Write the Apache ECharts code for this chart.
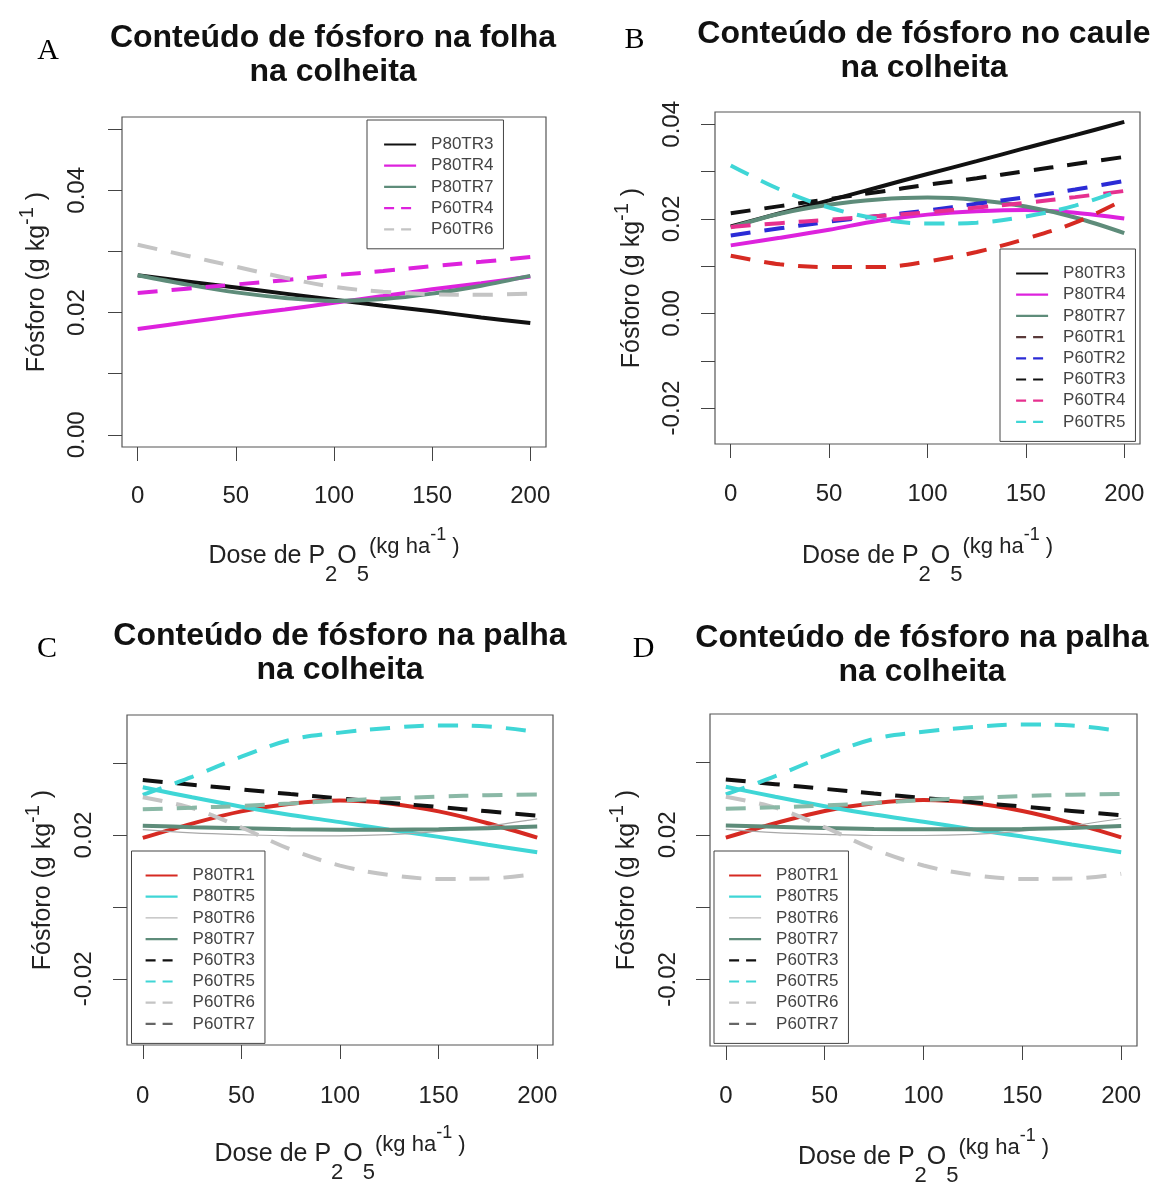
<!DOCTYPE html>
<html>
<head>
<meta charset="utf-8">
<script src="https://cdn.jsdelivr.net/npm/echarts@6/dist/echarts.min.js"></script>
<style>
  body { margin: 0; background: #fff; }
  #page { position: relative; width: 1156px; height: 1183px; }
  .panel { position: absolute; }
</style>
</head>
<body>
<div id="page">
  <div id="pA" class="panel" style="left:0;top:0;width:578px;height:590px"></div>
  <div id="pB" class="panel" style="left:578px;top:0;width:578px;height:590px"></div>
  <div id="pC" class="panel" style="left:0;top:590px;width:578px;height:593px"></div>
  <div id="pD" class="panel" style="left:578px;top:590px;width:578px;height:593px"></div>
</div>
<script>
// doses (kg/ha) where the curves were read
const doses = [0, 25, 50, 75, 100, 125, 150, 175, 200];
const xTicks = [0, 50, 100, 150, 200];

// A - folha
const folha_P80TR3 = [0.0261, 0.0251, 0.0241, 0.0231, 0.0221, 0.0211, 0.0202, 0.0192, 0.0183];
const folha_P80TR4 = [0.0173, 0.0184, 0.0195, 0.0205, 0.0216, 0.0227, 0.0238, 0.0248, 0.0259];
const folha_P80TR7 = [0.0261, 0.0246, 0.0233, 0.0224, 0.0219, 0.0222, 0.0231, 0.0244, 0.0260];
const folha_P60TR4 = [0.0232, 0.0239, 0.0246, 0.0253, 0.0261, 0.0268, 0.0276, 0.0283, 0.0291];
const folha_P60TR6 = [0.0311, 0.0293, 0.0275, 0.0257, 0.0242, 0.0234, 0.0230, 0.0229, 0.0231];

// B - caule
const caule_P80TR3 = [0.0184, 0.0212, 0.0239, 0.0267, 0.0295, 0.0322, 0.0350, 0.0377, 0.0405];
const caule_P80TR4 = [0.0144, 0.0160, 0.0177, 0.0196, 0.0209, 0.0216, 0.0219, 0.0213, 0.0201];
const caule_P80TR7 = [0.0182, 0.0211, 0.0230, 0.0241, 0.0245, 0.0240, 0.0226, 0.0203, 0.0170];
const caule_P60TR1 = [0.0122, 0.0104, 0.0098, 0.0098, 0.0110, 0.0130, 0.0158, 0.0192, 0.0241];
const caule_P60TR2 = [0.0165, 0.0180, 0.0194, 0.0206, 0.0218, 0.0232, 0.0246, 0.0262, 0.0280];
const caule_P60TR3 = [0.0212, 0.0227, 0.0242, 0.0257, 0.0272, 0.0286, 0.0301, 0.0316, 0.0331];
const caule_P60TR4 = [0.0183, 0.0191, 0.0198, 0.0206, 0.0214, 0.0224, 0.0234, 0.0246, 0.0259];
const caule_P60TR5 = [0.0313, 0.0262, 0.0224, 0.0200, 0.0190, 0.0192, 0.0205, 0.0228, 0.0263];

// C and D - palha (same curves in both)
const palha_P80TR1 = [0.0192, 0.0232, 0.0266, 0.0287, 0.0296, 0.0288, 0.0266, 0.0233, 0.0193];
const palha_P80TR5 = [0.0333, 0.0305, 0.0279, 0.0256, 0.0236, 0.0215, 0.0195, 0.0173, 0.0152];
const palha_P80TR6 = [0.0215, 0.0206, 0.0201, 0.0198, 0.0198, 0.0201, 0.0210, 0.0225, 0.0245];
const palha_P80TR7 = [0.0226, 0.0222, 0.0219, 0.0216, 0.0215, 0.0215, 0.0216, 0.0219, 0.0224];
const palha_P60TR3 = [0.0353, 0.0340, 0.0327, 0.0314, 0.0302, 0.0290, 0.0278, 0.0266, 0.0254];
const palha_P60TR5 = [0.0312, 0.0362, 0.0418, 0.0465, 0.0485, 0.0498, 0.0505, 0.0502, 0.0487];
const palha_P60TR6 = [0.0305, 0.0275, 0.0221, 0.0160, 0.0115, 0.0089, 0.0078, 0.0079, 0.0092];
const palha_P60TR7 = [0.0272, 0.0276, 0.0281, 0.0288, 0.0296, 0.0302, 0.0307, 0.0311, 0.0313];

// y ticks per panel
const yTicksA = [0, 0.01, 0.02, 0.03, 0.04, 0.05];
const yLabelsA = [0, 0.02, 0.04];
const yTicksB = [-0.02, -0.01, 0, 0.01, 0.02, 0.03, 0.04];
const yLabelsB = [-0.02, 0, 0.02, 0.04];
const yTicksC = [-0.02, 0, 0.02, 0.04];
const yLabelsC = [-0.02, 0.02];

const SANS = '"Liberation Sans", Arial, sans-serif';
const SERIF = '"Liberation Serif", "Times New Roman", serif';
const TXT = '#222';

const BLACK = '#111', MAGENTA = '#dd22dd', SEAGREEN = '#5e8c7a', LGRAY = '#c4c4c4';
const RED = '#d62a22', BLUE = '#2b2bd6', PINK = '#e6308f', CYAN = '#3fd6d6';
const GRAY = '#a8a8a8', LSEAGREEN = '#8ab8a6';

function s(name, vals, color, width, dashed) {
  return { name, vals, color, width, dashed };
}

function buildPanel(elId, ox, oy, p) {
  const chart = echarts.init(document.getElementById(elId));
  const series = p.lines.map(l => ({
    name: l.name,
    type: 'line',
    data: doses.map((d, i) => [d, l.vals[i]]),
    symbol: 'none',
    smooth: 0.35,
    silent: true,
    lineStyle: { color: l.color, width: l.width, type: l.dashed ? [20, 14] : 'solid', cap: 'butt' },
    itemStyle: { color: l.color }
  }));
  // legend: line sample only, no marker
  const legendData = p.lines.map(l => ({
    name: l.name,
    itemStyle: { opacity: 0, color: 'transparent', borderColor: 'transparent' },
    lineStyle: { width: l.width > 2 ? 2.2 : 1, type: l.dashed ? [10, 7] : 'solid', color: l.legendColor || l.color }
  }));
  const rich = {
    sub: { fontSize: 22, fontFamily: SANS, color: TXT, padding: [36, 0, 0, 0], verticalAlign: 'middle' },
    sup: { fontSize: 22, fontFamily: SANS, color: TXT, padding: [0, 0, 20, 0], verticalAlign: 'middle' },
    sup2: { fontSize: 18, fontFamily: SANS, color: TXT, padding: [0, 0, 42, 0], verticalAlign: 'middle' },
    ysup: { fontSize: 20, fontFamily: SANS, color: TXT, padding: [0, 0, 20, 0], verticalAlign: 'middle' },
    m: { fontSize: 25, fontFamily: SANS, color: TXT, verticalAlign: 'middle' }
  };
  chart.setOption({
    animation: false,
    backgroundColor: '#fff',
    textStyle: { fontFamily: SANS },
    graphic: [
      {
        type: 'text', x: p.title[0] - ox, y: p.title[1] - oy,
        style: {
          text: p.titleText, font: 'bold 32px ' + SANS, fill: '#111', lineHeight: 34,
          textAlign: 'center', textVerticalAlign: 'middle', align: 'center', verticalAlign: 'middle'
        }
      },
      {
        type: 'text', x: p.letter[0] - ox, y: p.letter[1] - oy,
        style: {
          text: p.letterText, font: '30px ' + SERIF, fill: '#000',
          textAlign: 'center', textVerticalAlign: 'middle', align: 'center', verticalAlign: 'middle'
        }
      }
    ],
    grid: {
      left: p.grid[0] - ox, top: p.grid[1] - oy, width: p.grid[2], height: p.grid[3],
      show: true, borderColor: '#555', borderWidth: 1.2, backgroundColor: 'transparent',
      containLabel: false, outerBoundsMode: 'none'
    },
    legend: {
      orient: 'vertical',
      left: p.legend[0] - ox, top: p.legend[1] - oy,
      padding: p.legendPad,
      itemGap: 4.2, itemWidth: 32, itemHeight: 14,
      borderColor: '#444', borderWidth: 1, backgroundColor: '#fff',
      selectedMode: false,
      textStyle: { fontSize: 17, color: '#444', fontFamily: SANS, padding: [0, 0, 0, 10] },
      data: legendData
    },
    xAxis: {
      type: 'value', min: -8, max: 208,
      axisLine: { show: false, onZero: false },
      splitLine: { show: false },
      axisTick: { show: true, length: 14, customValues: xTicks, lineStyle: { color: '#444', width: 1 } },
      axisLabel: { customValues: xTicks, fontSize: 24, color: TXT, fontFamily: SANS, margin: p.xMargin },
      name: 'Dose de P{sub|2}O{sub|5}{sup|(kg ha}{sup2|-1}{sup| )}',
      nameLocation: 'middle', nameGap: p.xNameGap,
      nameTextStyle: { fontSize: 25, color: TXT, fontFamily: SANS, rich: rich }
    },
    yAxis: {
      type: 'value', min: p.yRange[0], max: p.yRange[1],
      axisLine: { show: false, onZero: false },
      splitLine: { show: false },
      axisTick: { show: true, length: 14, customValues: p.yTicks, lineStyle: { color: '#444', width: 1 } },
      axisLabel: {
        customValues: p.yLabels, rotate: 90, fontSize: 24, color: TXT, fontFamily: SANS, margin: p.yMargin,
        formatter: v => (Math.abs(v) < 1e-9 ? 0 : v).toFixed(2)
      },
      name: 'Fósforo (g kg{ysup|-1}{m| )}',
      nameLocation: 'middle', nameGap: p.yNameGap, nameRotate: 90,
      nameTextStyle: { fontSize: 25, color: TXT, fontFamily: SANS, rich: rich }
    },
    series: series
  });
}

const palhaLines = [
  s('P80TR1', palha_P80TR1, RED, 4, false),
  s('P80TR5', palha_P80TR5, CYAN, 4, false),
  s('P80TR6', palha_P80TR6, GRAY, 1.2, false),
  s('P80TR7', palha_P80TR7, SEAGREEN, 4, false),
  s('P60TR3', palha_P60TR3, BLACK, 4, true),
  s('P60TR5', palha_P60TR5, CYAN, 4, true),
  s('P60TR6', palha_P60TR6, LGRAY, 4, true),
  Object.assign(s('P60TR7', palha_P60TR7, LSEAGREEN, 4, true), { legendColor: '#666' })
];

buildPanel('pA', 0, 0, {
  titleText: 'Conteúdo de fósforo na folha\nna colheita', title: [333, 55],
  letterText: 'A', letter: [48, 51],
  grid: [122, 117, 424, 330],
  legend: [367, 120], legendPad: [16, 10, 11, 16],
  yRange: [-0.002, 0.052], yTicks: yTicksA, yLabels: yLabelsA,
  xMargin: 37.5, yMargin: 32.5, xNameGap: 79.5, yNameGap: 65,
  lines: [
    s('P80TR3', folha_P80TR3, BLACK, 4, false),
    s('P80TR4', folha_P80TR4, MAGENTA, 4, false),
    s('P80TR7', folha_P80TR7, SEAGREEN, 4, false),
    s('P60TR4', folha_P60TR4, MAGENTA, 4, true),
    s('P60TR6', folha_P60TR6, LGRAY, 4, true)
  ]
});

buildPanel('pB', 578, 0, {
  titleText: 'Conteúdo de fósforo no caule\nna colheita', title: [924, 51],
  letterText: 'B', letter: [634.5, 40],
  grid: [715, 112, 425, 332],
  legend: [1000, 249], legendPad: [16, 10, 11, 15],
  yRange: [-0.0276, 0.0426], yTicks: yTicksB, yLabels: yLabelsB,
  xMargin: 38.5, yMargin: 30.5, xNameGap: 82.5, yNameGap: 63,
  lines: [
    s('P80TR3', caule_P80TR3, BLACK, 4, false),
    s('P80TR4', caule_P80TR4, MAGENTA, 4, false),
    s('P80TR7', caule_P80TR7, SEAGREEN, 4, false),
    Object.assign(s('P60TR1', caule_P60TR1, RED, 4, true), { legendColor: '#5a3a3a' }),
    s('P60TR2', caule_P60TR2, BLUE, 4, true),
    s('P60TR3', caule_P60TR3, BLACK, 4, true),
    s('P60TR4', caule_P60TR4, PINK, 4, true),
    s('P60TR5', caule_P60TR5, CYAN, 4, true)
  ]
});

buildPanel('pC', 0, 590, {
  titleText: 'Conteúdo de fósforo na palha\nna colheita', title: [340, 653.5],
  letterText: 'C', letter: [47, 649],
  grid: [127, 715, 426, 330],
  legend: [131.5, 851], legendPad: [16, 10, 11, 13],
  yRange: [-0.0384, 0.0534], yTicks: yTicksC, yLabels: yLabelsC,
  xMargin: 39.5, yMargin: 30.5, xNameGap: 79.5, yNameGap: 64,
  lines: palhaLines
});

buildPanel('pD', 578, 590, {
  titleText: 'Conteúdo de fósforo na palha\nna colheita', title: [922, 655.5],
  letterText: 'D', letter: [643.5, 649],
  grid: [710, 714, 427, 332],
  legend: [714, 851], legendPad: [16, 10, 11, 14],
  yRange: [-0.0384, 0.0534], yTicks: yTicksC, yLabels: yLabelsC,
  xMargin: 38.5, yMargin: 29.5, xNameGap: 81.5, yNameGap: 63,
  lines: palhaLines
});
</script>
</body>
</html>
